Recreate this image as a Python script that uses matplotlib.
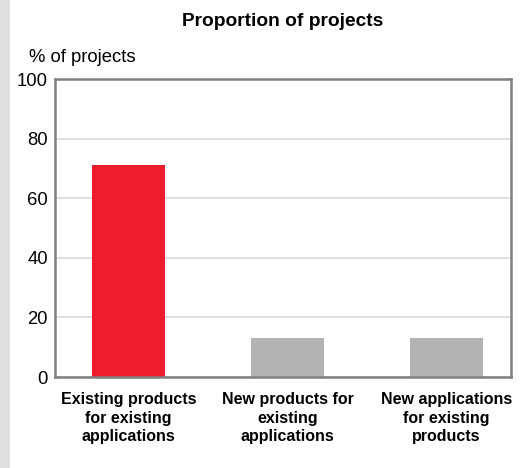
import matplotlib
matplotlib.use("Agg")
import matplotlib.pyplot as plt
from matplotlib.patches import Rectangle

categories = ["Existing products\nfor existing\napplications",
              "New products for\nexisting\napplications",
              "New applications\nfor existing\nproducts"]
values = [71, 13, 13]
colors = ["#ed1c2e", "#b3b3b3", "#b3b3b3"]
yticks = [0, 20, 40, 60, 80, 100]

plt.rcParams['font.family'] = ['Liberation Sans', 'DejaVu Sans']

fig = plt.figure(figsize=(5.27, 4.68), dpi=100)
fig.patches.append(Rectangle((0, 0), 10/527, 1, transform=fig.transFigure,
                             facecolor="#e0e0e0", edgecolor="none", zorder=0))
W, H = 527, 468
ax = fig.add_axes([55/W, 1-377/H, (511-55)/W, (377-79)/H])
x = list(range(len(categories)))
ax.bar(x, values, width=0.46, color=colors, zorder=3)
ax.set_xlim(-0.462, 2.406)
ax.set_ylim(0, 100)
ax.set_yticks(yticks)
ax.set_yticklabels([str(t) for t in yticks], fontsize=13.3)
ax.yaxis.grid(True, color="#d9d9d9", linewidth=1.2, zorder=0)
ax.set_axisbelow(True)
for s in ax.spines.values():
    s.set_color("#808080")
    s.set_linewidth(1.8)
    s.set_zorder(4)
ax.tick_params(axis='y', length=0, pad=5)
ax.set_xticks(x)
ax.set_xticklabels(categories, fontsize=11.5, fontweight='bold', linespacing=1.3)
ax.tick_params(axis='x', length=0, pad=11)

fig.text(283/W, 1-21/H, "Proportion of projects", ha='center', va='center',
         fontsize=13.8, fontweight='bold')
fig.text(29/W, 1-57/H, "% of projects", ha='left', va='center', fontsize=13.3)

fig.savefig("out.png", dpi=100)
